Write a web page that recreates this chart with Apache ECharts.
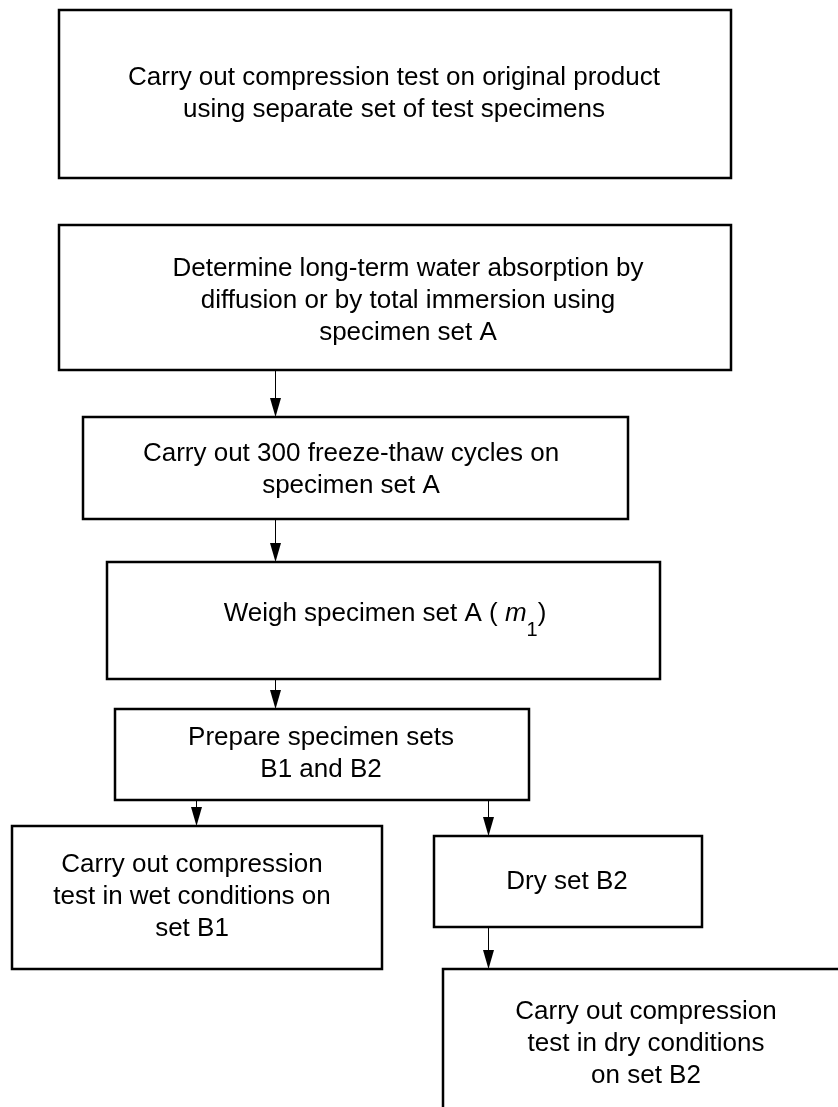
<!DOCTYPE html>
<html>
<head>
<meta charset="utf-8">
<script src="https://cdn.jsdelivr.net/npm/echarts@6/dist/echarts.min.js"></script>
<style>
  html, body { margin: 0; background: #fff; }
  #chart { width: 838px; height: 1107px; }
</style>
</head>
<body>
<div id="chart"></div>
<script>
const stepLabels = [
  "Carry out compression test on original product\nusing separate set of test specimens",
  "Determine long-term water absorption by\ndiffusion or by total immersion using\nspecimen set A",
  "Carry out 300 freeze-thaw cycles on\nspecimen set A",
  "Weigh specimen set A ( {i|m}{s|1})",
  "Prepare specimen sets\nB1 and B2",
  "Carry out compression\ntest in wet conditions on\nset B1",
  "Dry set B2",
  "Carry out compression\ntest in dry conditions\non set B2",
];

// box extents in diagram units: [left, top, right, bottom]
const boxExtents = [
  [59, 10, 731, 178],
  [59, 225, 731, 370],
  [83, 417, 628, 519],
  [107, 562, 660, 679],
  [115, 709, 529, 800],
  [12, 826, 382, 969],
  [434, 836, 702, 927],
  [443, 969, 852, 1122],
];

// where each label block is centred
const labelAnchors = [
  [394, 94],
  [408, 301],
  [351, 470],
  [385, 614],
  [321, 754],
  [192, 897],
  [567, 882],
  [646, 1044],
];

// connectors: [x, from y, to y]
const arrows = [
  [275, 370, 417],
  [275, 519, 562],
  [275, 679, 709],
  [196, 800, 826],
  [488, 800, 836],
  [488, 927, 969],
];

const font = "'Liberation Sans', Arial, sans-serif";

function renderBox(params, api) {
  const p0 = api.coord([api.value(0), api.value(1)]);
  const p1 = api.coord([api.value(2), api.value(3)]);
  const a = api.coord([api.value(4), api.value(5)]);
  return {
    type: "group",
    children: [
      {
        type: "rect",
        shape: { x: p0[0], y: p0[1], width: p1[0] - p0[0], height: p1[1] - p0[1] },
        style: { fill: "#fff", stroke: "#000", lineWidth: 2.5 },
      },
      {
        type: "text",
        x: a[0],
        y: a[1],
        style: {
          text: stepLabels[params.dataIndex],
          fill: "#000",
          fontSize: 26,
          fontFamily: font,
          lineHeight: 32,
          align: "center",
          verticalAlign: "middle",
          rich: {
            i: { fontSize: 26, fontFamily: font, fontStyle: "italic", lineHeight: 32, fill: "#000" },
            s: { fontSize: 20, fontFamily: font, lineHeight: 20, padding: [32, 0, 0, 0], fill: "#000" },
          },
        },
      },
    ],
  };
}

function renderArrow(params, api) {
  const from = api.coord([api.value(0), api.value(1)]);
  const to = api.coord([api.value(0), api.value(2)]);
  const x = Math.round(to[0]) + 0.5;
  return {
    type: "group",
    children: [
      {
        type: "line",
        shape: { x1: x, y1: from[1], x2: x, y2: to[1] - 10 },
        style: { stroke: "#000", lineWidth: 1 },
      },
      {
        type: "polygon",
        shape: { points: [[x - 5.5, to[1] - 19], [x + 5.5, to[1] - 19], [x, to[1]]] },
        style: { fill: "#000" },
      },
    ],
  };
}

const chart = echarts.init(document.getElementById("chart"));
chart.setOption({
  animation: false,
  backgroundColor: "#fff",
  grid: { left: 0, right: 0, top: 0, bottom: 0 },
  xAxis: { type: "value", min: 0, max: 838, show: false },
  yAxis: { type: "value", min: 0, max: 1107, inverse: true, show: false },
  series: [
    {
      type: "custom",
      silent: true,
      renderItem: renderArrow,
      encode: { x: 0, y: [1, 2] },
      data: arrows,
    },
    {
      type: "custom",
      silent: true,
      renderItem: renderBox,
      encode: { x: [0, 2, 4], y: [1, 3, 5] },
      data: boxExtents.map((b, i) => b.concat(labelAnchors[i])),
    },
  ],
});
</script>
</body>
</html>
